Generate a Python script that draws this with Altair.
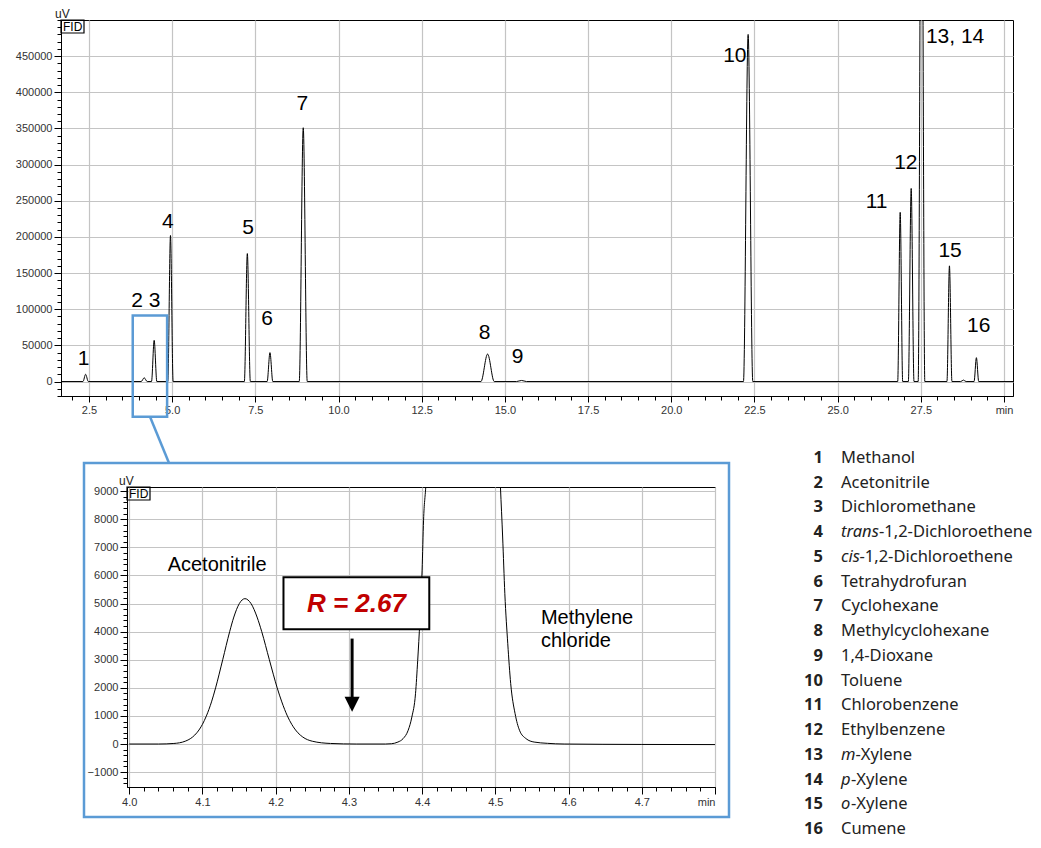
import altair as alt
import pandas as pd

FONT = "Liberation Sans"
LEGEND_FONT = "Noto Sans"
BLUE = "#5B9BD5"
RED = "#C00000"

# ---------------- main chromatogram: peak table ----------------
peak_rt = [2.40, 4.16, 4.46, 4.95, 7.26, 7.94, 8.94, 14.48, 15.50, 22.31,
           26.88, 27.21, 27.52, 28.36, 28.78, 29.17]
peak_height = [10000, 5200, 57000, 202000, 177000, 40000, 351000, 38000, 1500, 480000,
               234000, 267000, 900000, 160000, 2000, 33000]
peak_halfwidth = [0.08, 0.09, 0.08, 0.08, 0.09, 0.085, 0.12, 0.20, 0.15, 0.14,
                  0.075, 0.085, 0.10, 0.075, 0.08, 0.07]
run_start, run_end = 1.66, 30.27

# peak number labels (text, time, uV)
label_text = ["1", "2 3", "4", "5", "6", "7", "8", "9", "10", "11", "12", "13, 14", "15", "16"]
label_rt = [2.34, 4.21, 4.87, 7.28, 7.85, 8.91, 14.39, 15.38, 21.91, 26.17, 27.05, 28.53, 28.38, 29.24]
label_uv = [30700, 111800, 220000, 212400, 85900, 383500, 67300, 34100, 450700, 248300,
            302900, 477000, 181000, 77200]

# ---------------- inset: trace ----------------
inset_t = [4.000, 4.040, 4.061, 4.0765, 4.0866, 4.0924, 4.100, 4.1054, 4.1124, 4.118,
           4.1277, 4.1372, 4.1429, 4.1504, 4.158, 4.1664, 4.1746, 4.181, 4.1914, 4.2021,
           4.2084, 4.216, 4.222, 4.2304, 4.237, 4.250, 4.275, 4.310, 4.350, 4.358, 4.367,
           4.374, 4.381, 4.386, 4.391, 4.394, 4.397, 4.400, 4.402, 4.405, 4.455, 4.507,
           4.510, 4.513, 4.517, 4.521, 4.527, 4.533, 4.542, 4.553, 4.571, 4.594, 4.700, 4.800]
inset_uv = [0, 0, 20, 100, 250, 400, 700, 1000, 1500, 2000,
            3000, 4000, 4520, 5000, 5175, 5000, 4520, 4000, 3000, 2000,
            1500, 1000, 700, 400, 250, 100, 20, 0, 0, 10, 70,
            190, 490, 960, 1790, 2980, 4400, 6190, 7970, 9150, 57000, 9150,
            7370, 5350, 3570, 2150, 1080, 490, 190, 70, 25, 0, -15, -20]

# ---------------- compound list ----------------
legend_num = [str(i) for i in range(1, 17)]
legend_prefix = ["", "", "", "trans", "cis", "", "", "", "", "", "", "", "m", "p", "o", ""]
legend_rest = ["Methanol", "Acetonitrile", "Dichloromethane", "-1,2-Dichloroethene",
               "-1,2-Dichloroethene", "Tetrahydrofuran", "Cyclohexane", "Methylcyclohexane",
               "1,4-Dioxane", "Toluene", "Chlorobenzene", "Ethylbenzene", "-Xylene",
               "-Xylene", "-Xylene", "Cumene"]

# ---------------- axis tick arrays ----------------
main_x_ticks = [round(2.0 + 0.5 * i, 1) for i in range(57)]
main_y_ticks = list(range(-20000, 500001, 10000))
inset_x_ticks = [round(4.0 + 0.02 * i, 2) for i in range(41)]
inset_y_ticks = list(range(-1400, 9001, 200))

# ---------------- layout constants ----------------
MAIN_W, MAIN_H = 952, 376
INS_W, INS_H = 588, 300
VSPACE = 91
SPACER_W, HSPACE = 56, 10
LEG_W, LEG_H = 200, 300
LEG_NUM_X, LEG_NAME_X = 98, 116
LEG_ROW1, LEG_ROW16 = -29, 342
LEG_SIZE = 16.5
PREFIX_W = {"trans": 38, "cis": 18.5, "m": 14.5, "p": 10, "o": 10}
UV_Y = 1

MAIN_YD = [-20000, 500000]
INS_XD = [3.997, 4.8]
INS_YD = [-1530, 9150]


def is_mult(step):
    return f"abs(datum.value/{step} - round(datum.value/{step})) < 0.000001"


one = pd.DataFrame({"a": [0]})

# ================= main chart =================
trace_t, trace_uv = [run_start], [0.0]
for rt, h, hw in zip(peak_rt, peak_height, peak_halfwidth):
    trace_t += [rt - hw, rt, rt + hw]
    trace_uv += [0.0, h, 0.0]
trace_t.append(run_end)
trace_uv.append(0.0)
main_df = pd.DataFrame({"t": trace_t, "uv": trace_uv})

mx_major = is_mult(2.5)
main_x_axis = alt.Axis(
    values=main_x_ticks, tickCount=1000, title=None, labelOverlap=False, labelFlush=False,
    labelExpr=f"({mx_major}) ? (datum.value > 29.9 ? 'min' : format(datum.value, '.1f')) : ''",
    tickSize={"condition": {"test": mx_major, "value": 6}, "value": 4},
    gridOpacity={"condition": {"test": mx_major, "value": 1}, "value": 0},
)
my_major = f"({is_mult(50000)}) && datum.value >= 0 && datum.value <= 450000"
main_y_axis = alt.Axis(
    values=main_y_ticks, tickCount=1000, title=None, labelOverlap=False,
    labelExpr=f"({my_major}) ? format(datum.value, 'd') : ''",
    tickSize={"condition": {"test": my_major, "value": 7}, "value": 4},
    gridOpacity={"condition": {"test": my_major, "value": 1}, "value": 0},
)
mxs = alt.Scale(domain=[run_start, run_end], nice=False, zero=False)
mys = alt.Scale(domain=MAIN_YD, nice=False, zero=False)

trace = alt.Chart(main_df).mark_line(
    color="black", strokeWidth=1, interpolate="monotone", clip=True
).encode(
    x=alt.X("t:Q", scale=mxs, axis=main_x_axis),
    y=alt.Y("uv:Q", scale=mys, axis=main_y_axis),
)

lab_df = pd.DataFrame({"text": label_text, "t": label_rt, "uv": label_uv})
peak_labels = alt.Chart(lab_df).mark_text(
    font=FONT, fontSize=21, color="black", align="center", baseline="middle"
).encode(x=alt.X("t:Q", scale=mxs), y=alt.Y("uv:Q", scale=mys), text="text:N")

# highlighted region (blue box) on the main chromatogram
hl_df = pd.DataFrame({"t1": [3.816], "t2": [4.849], "v1": [-48800], "v2": [91200]})
highlight = alt.Chart(hl_df).mark_rect(
    fillOpacity=0, stroke=BLUE, strokeWidth=2.5, clip=False
).encode(
    x=alt.X("t1:Q", scale=mxs), x2="t2:Q",
    y=alt.Y("v1:Q", scale=mys), y2="v2:Q",
)
hl_bottom_px = (MAIN_YD[1] - (-48800)) / (MAIN_YD[1] - MAIN_YD[0]) * MAIN_H
connector = alt.Chart(one).mark_rule(color=BLUE, strokeWidth=2.5, clip=False).encode(
    x=alt.value(89), y=alt.value(hl_bottom_px),
    x2=alt.value(108), y2=alt.value(MAIN_H + VSPACE - 24),
)


def fid_layers():
    box = alt.Chart(one).mark_rect(fillOpacity=0, stroke="black", strokeWidth=1.2).encode(
        x=alt.value(0), x2=alt.value(23), y=alt.value(0), y2=alt.value(13))
    fid = alt.Chart(one).mark_text(
        text="FID", font=FONT, fontSize=12, align="left", baseline="middle", color="black"
    ).encode(x=alt.value(2), y=alt.value(7))
    return [box, fid]


def uv_layer(xpx):
    return alt.Chart(one).mark_text(
        text="uV", font=FONT, fontSize=12, align="left", baseline="bottom", color="#222"
    ).encode(x=alt.value(xpx), y=alt.value(UV_Y))


main = alt.layer(
    trace, peak_labels, highlight, connector, *fid_layers(), uv_layer(-6)
).properties(width=MAIN_W, height=MAIN_H)

# ================= inset chart =================
ix_major = is_mult(0.1)
inset_x_axis = alt.Axis(
    values=inset_x_ticks, tickCount=1000, title=None, labelOverlap=False, labelFlush=False,
    labelExpr=f"({ix_major}) ? (datum.value > 4.79 ? 'min' : format(datum.value, '.1f')) : ''",
    labelAlign={"condition": {"test": "datum.value > 4.79", "value": "right"}, "value": "center"},
    tickSize={"condition": {"test": ix_major, "value": 7}, "value": 4},
    gridOpacity={"condition": {"test": ix_major, "value": 1}, "value": 0},
)
iy_major = f"({is_mult(1000)}) && datum.value >= -1000"
inset_y_axis = alt.Axis(
    values=inset_y_ticks, tickCount=1000, title=None, labelOverlap=False,
    labelExpr=f"({iy_major}) ? format(datum.value, 'd') : ''",
    tickSize={"condition": {"test": iy_major, "value": 7}, "value": 4},
    gridOpacity={"condition": {"test": iy_major, "value": 1}, "value": 0},
)
ixs = alt.Scale(domain=INS_XD, nice=False, zero=False)
iys = alt.Scale(domain=INS_YD, nice=False, zero=False)

inset_df = pd.DataFrame({"t": inset_t, "uv": inset_uv})
inset_trace = alt.Chart(inset_df).mark_line(
    color="black", strokeWidth=1, interpolate="monotone", clip=True
).encode(
    x=alt.X("t:Q", scale=ixs, axis=inset_x_axis),
    y=alt.Y("uv:Q", scale=iys, axis=inset_y_axis),
)

names_df = pd.DataFrame({
    "text": ["Acetonitrile", "Methylene", "chloride"],
    "t": [4.0525, 4.5623, 4.5623],
    "uv": [6364, 4477, 3658],
})
inset_names = alt.Chart(names_df).mark_text(
    font=FONT, fontSize=20, color="black", align="left", baseline="middle"
).encode(x=alt.X("t:Q", scale=ixs), y=alt.Y("uv:Q", scale=iys), text="text:N")

rbox_df = pd.DataFrame({"t1": [4.2107], "t2": [4.4098], "v1": [4085], "v2": [5936]})
rbox = alt.Chart(rbox_df).mark_rect(fill="white", stroke="black", strokeWidth=2).encode(
    x=alt.X("t1:Q", scale=ixs), x2="t2:Q", y=alt.Y("v1:Q", scale=iys), y2="v2:Q")
rtext = alt.Chart(pd.DataFrame({"t": [4.3103], "uv": [4975]})).mark_text(
    text="R = 2.67", font=FONT, fontSize=26, fontWeight="bold", fontStyle="italic",
    color=RED, align="center", baseline="middle"
).encode(x=alt.X("t:Q", scale=ixs), y=alt.Y("uv:Q", scale=iys))

arrow_df = pd.DataFrame({"t": [4.3044], "v1": [3754], "v2": [1550], "vh": [1414]})
shaft = alt.Chart(arrow_df).mark_rule(color="black", strokeWidth=3).encode(
    x=alt.X("t:Q", scale=ixs), y=alt.Y("v1:Q", scale=iys), y2="v2:Q")
head = alt.Chart(arrow_df).mark_point(
    shape="M-1,-1L1,-1L0,1Z", size=225, filled=True, color="black", opacity=1
).encode(x=alt.X("t:Q", scale=ixs), y=alt.Y("vh:Q", scale=iys))

inset_box = alt.Chart(one).mark_rect(
    fillOpacity=0, stroke=BLUE, strokeWidth=2.5, clip=False
).encode(x=alt.value(-43), x2=alt.value(602), y=alt.value(-24), y2=alt.value(330))

inset = alt.layer(
    inset_trace, inset_names, rbox, rtext, shaft, head, inset_box, *fid_layers(), uv_layer(-8)
).properties(width=INS_W, height=INS_H)

# ================= compound list =================
leg_df = pd.DataFrame({"row": list(range(1, 17)), "num": legend_num,
                       "prefix": legend_prefix, "rest": legend_rest})
ly = alt.Y("row:Q", scale=alt.Scale(domain=[1, 16], range=[LEG_ROW1, LEG_ROW16]), axis=None)
leg_layers = [
    alt.Chart(leg_df).mark_text(
        font=LEGEND_FONT, fontSize=LEG_SIZE, fontWeight="bold", align="right",
        baseline="middle", color="#222"
    ).encode(x=alt.value(LEG_NUM_X), y=ly, text="num:N"),
    alt.Chart(leg_df[leg_df["prefix"] == ""]).mark_text(
        font=LEGEND_FONT, fontSize=LEG_SIZE, align="left", baseline="middle", color="#222"
    ).encode(x=alt.value(LEG_NAME_X), y=ly, text="rest:N"),
]
for r, p in zip(leg_df["row"], leg_df["prefix"]):
    if not p:
        continue
    sub = leg_df[leg_df["row"] == r]
    leg_layers.append(alt.Chart(sub).mark_text(
        font=LEGEND_FONT, fontSize=LEG_SIZE, fontStyle="italic", align="left",
        baseline="middle", color="#222"
    ).encode(x=alt.value(LEG_NAME_X), y=ly, text="prefix:N"))
    leg_layers.append(alt.Chart(sub).mark_text(
        font=LEGEND_FONT, fontSize=LEG_SIZE, align="left", baseline="middle",
        color="#222", dx=PREFIX_W[p]
    ).encode(x=alt.value(LEG_NAME_X), y=ly, text="rest:N"))

legend = alt.layer(*leg_layers).properties(
    width=LEG_W, height=LEG_H, view=alt.ViewBackground(stroke="transparent"))

spacer = alt.Chart(one).mark_text(text="").encode(
    x=alt.value(0), y=alt.value(0)
).properties(width=SPACER_W, height=10, view=alt.ViewBackground(stroke="transparent"))

row2 = alt.hconcat(spacer, inset, legend, spacing=HSPACE, bounds="flush")

chart = alt.vconcat(main, row2, spacing=VSPACE, bounds="flush").properties(
    padding={"left": 6, "top": -1, "right": 0, "bottom": 0},
    background="white",
).configure_view(
    stroke="black", strokeWidth=1
).configure_axis(
    domainColor="black", domainWidth=1, tickColor="black", tickWidth=1,
    labelFont=FONT, labelFontSize=11, labelColor="#333", labelPadding=2,
    gridColor="#c4c4c4", gridWidth=1.2,
)

chart.save("out.html", embed_options={"renderer": "svg", "actions": False})
